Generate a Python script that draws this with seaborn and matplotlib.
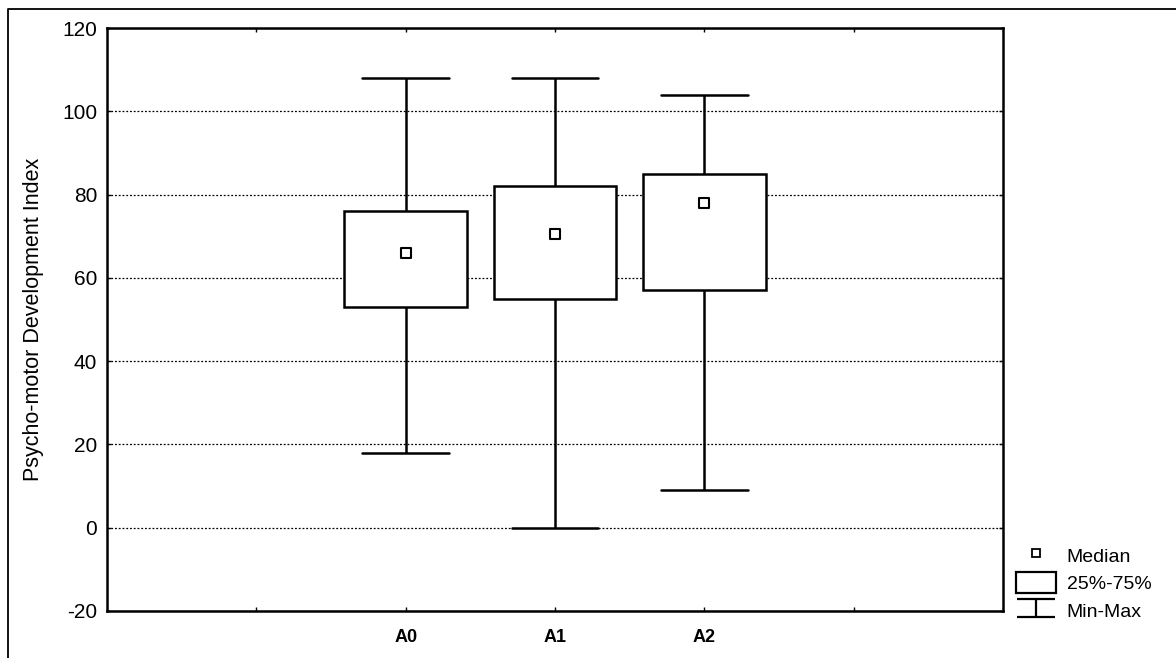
import pandas as pd
import matplotlib.pyplot as plt
import seaborn as sns
import numpy as np
from matplotlib.lines import Line2D
from matplotlib.patches import Patch
from matplotlib.path import Path

# Summary statistics
groups = ['A0', 'A1', 'A2']
mins = [18, 0, 9]
q1s = [53, 55, 57]
medians = [66, 70.5, 78]
q3s = [76, 82, 85]
maxs = [108, 108, 104]

# five-number data per group: with whis=(0,100) the boxplot reproduces them exactly
rows = []
for g, a, b, c, d, e in zip(groups, mins, q1s, medians, q3s, maxs):
    for v in (a, b, c, d, e):
        rows.append({'group': g, 'value': v})
df = pd.DataFrame(rows)
df_med = pd.DataFrame({'group': groups, 'median': medians})

sns.set_style('white')
plt.rcParams['font.family'] = ['Liberation Sans', 'DejaVu Sans']
plt.rcParams['axes.unicode_minus'] = False
plt.rcParams['text.color'] = 'black'
plt.rcParams['axes.labelcolor'] = 'black'
plt.rcParams['xtick.color'] = 'black'
plt.rcParams['ytick.color'] = 'black'

fig = plt.figure(figsize=(11.76, 6.58), dpi=100)
ax = fig.add_axes([107/1176, 1 - 611/658, (1003 - 107)/1176, (611 - 28)/658])

sns.boxplot(data=df, x='group', y='value', whis=(0, 100), width=0.82,
            color='white', linecolor='black', linewidth=1.8, showfliers=False,
            medianprops={'visible': False}, capwidths=0.58, ax=ax)
sns.stripplot(data=df_med, x='group', y='median', jitter=False, marker='s',
              size=7, color='white', edgecolor='black', linewidth=1.5,
              zorder=5, ax=ax)

ax.set_xlim(-2, 4)
ax.set_ylim(-20, 120)
ax.set_yticks(np.arange(-20, 121, 20))
ax.set_xticks([-1, 0, 1, 2, 3])
ax.set_xticklabels(['', 'A0', 'A1', 'A2', ''], fontsize=13, fontweight='bold')
ax.tick_params(axis='y', labelsize=15, pad=7)
ax.tick_params(axis='x', pad=13)
ax.tick_params(direction='in', length=3, width=1, top=True, right=True,
               bottom=True, left=True, colors='black')
ax.set_xlabel('')
ax.set_ylabel('Psycho-motor Development Index', fontsize=15.5, labelpad=13)
ax.yaxis.grid(True, linestyle=(0, (1.5, 1.5)), color='black', linewidth=0.9)
ax.set_axisbelow(True)
for s in ax.spines.values():
    s.set_visible(True)
    s.set_color('black')
    s.set_linewidth(1.8)

# legend
ibeam = Path([(-1, 0.45), (1, 0.45), (0, 0.45), (0, -0.45), (-1, -0.45), (1, -0.45)],
             [Path.MOVETO, Path.LINETO, Path.MOVETO, Path.LINETO, Path.MOVETO, Path.LINETO])
handles = [
    Line2D([], [], ls='none', marker='s', ms=6, mfc='white', mec='black', mew=1.3),
    Patch(facecolor='white', edgecolor='black', linewidth=1.6),
    Line2D([], [], ls='none', marker=ibeam, ms=28, mec='black', mew=1.6),
]
leg = fig.legend(handles, ['Median', '25%-75%', 'Min-Max'], loc='lower left',
                 bbox_to_anchor=(1016/1176, 1 - 621/658), frameon=False, fontsize=14,
                 handlelength=2.05, handleheight=1.3, handletextpad=0.55,
                 labelspacing=0.33, borderpad=0, borderaxespad=0)
for t in leg.get_texts():
    t.set_color('black')

# outer frame (top and left edges visible in the scan)
fig.add_artist(Line2D([8/1176, 8/1176, 1], [0, 1 - 9/658, 1 - 9/658],
                      color='black', linewidth=1.3, transform=fig.transFigure))

fig.savefig('out.png', dpi=100)
